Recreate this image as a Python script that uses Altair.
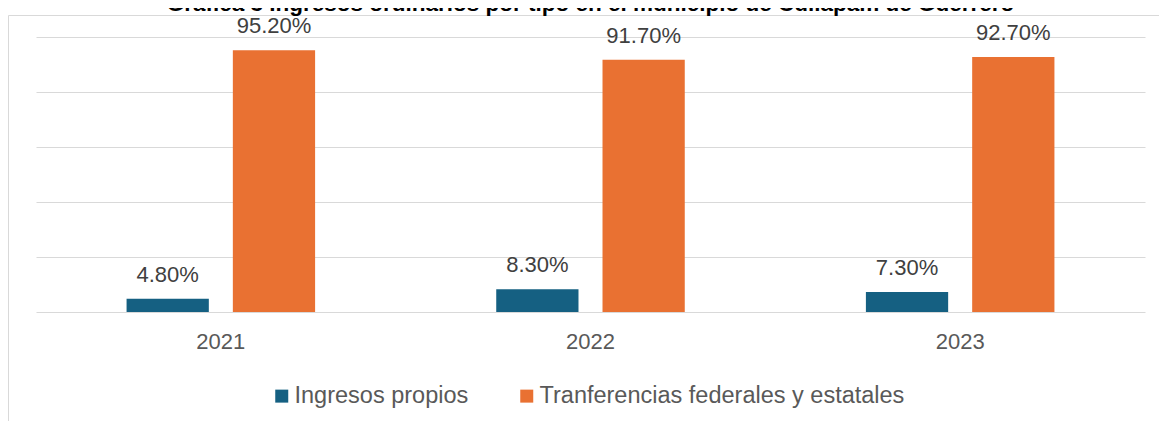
import altair as alt
import pandas as pd

years = ["2021", "2022", "2023"]
series = ["Ingresos propios", "Tranferencias federales y estatales"]
propios = [4.8, 8.3, 7.3]
transferencias = [95.2, 91.7, 92.7]
colors = ["#156082", "#E97132"]
title_text = "Gráfica 3 Ingresos ordinarios por tipo en el municipio de Cuilápam de Guerrero"

rows = []
for i, y in enumerate(years):
    rows.append({"year": y, "serie": series[0], "v": propios[i]})
    rows.append({"year": y, "serie": series[1], "v": transferencias[i]})
df = pd.DataFrame(rows)

W, H = 1109, 275
FONT = "Liberation Sans"

x_enc = alt.X("year:N", sort=years,
              scale=alt.Scale(paddingInner=0.49, paddingOuter=0.245),
              axis=alt.Axis(title=None, labelAngle=0, ticks=False, domain=False,
                            labelFontSize=22, labelColor="#595959", labelFont=FONT,
                            labelPadding=19, grid=False))
xo_enc = alt.XOffset("serie:N", sort=series,
                     scale=alt.Scale(paddingInner=0.226, paddingOuter=0))
y_enc = alt.Y("v:Q", scale=alt.Scale(domain=[0, 100], nice=False),
              axis=alt.Axis(title=None, labels=False, ticks=False, domain=False,
                            values=[0, 20, 40, 60, 80, 100], grid=True,
                            gridColor="#d9d9d9", gridWidth=1.2))
color_enc = alt.Color("serie:N", sort=series,
                      scale=alt.Scale(domain=series, range=colors),
                      legend=alt.Legend(title=None, orient="none", direction="horizontal",
                                        legendX=234, legendY=347,
                                        symbolType="square", symbolSize=169,
                                        symbolStrokeWidth=0, labelFontSize=23.5,
                                        labelColor="#595959", labelFont=FONT,
                                        labelOffset=1, columnPadding=46,
                                        labelLimit=500))

base = alt.Chart(df)
bars = base.mark_bar().encode(x=x_enc, xOffset=xo_enc, y=y_enc, color=color_enc)
labels = base.transform_calculate(
    lbl="format(datum.v, '.2f') + '%'"
).mark_text(baseline="alphabetic", dy=-17, fontSize=22, font=FONT, color="#404040").encode(
    x=alt.X("year:N", sort=years), xOffset=alt.XOffset("serie:N", sort=series),
    y=alt.Y("v:Q"), text="lbl:N")

frame = alt.Chart(alt.Data(values=[{"a": 1}])).mark_rect(
    fill=None, stroke="#d9d9d9", strokeWidth=1
).encode(x=alt.value(-27.5), x2=alt.value(1300), y=alt.value(-21.5), y2=alt.value(600))

title = alt.Chart(alt.Data(values=[{"a": 1}])).mark_text(
    fontSize=22.5, fontWeight="bold", font=FONT, color="#000000", baseline="alphabetic", align="center"
).encode(x=alt.value(W / 2), y=alt.value(-26.5), text=alt.value(title_text))

chart = alt.layer(frame, title, bars, labels).properties(
    width=W, height=H,
    background="white",
    autosize=alt.AutoSizeParams(type="none"),
    padding={"left": 28, "top": 29, "right": 14, "bottom": 109},
).configure_view(stroke=None, strokeWidth=0)

chart.save("out.html", embed_options={"renderer": "svg", "actions": False})
